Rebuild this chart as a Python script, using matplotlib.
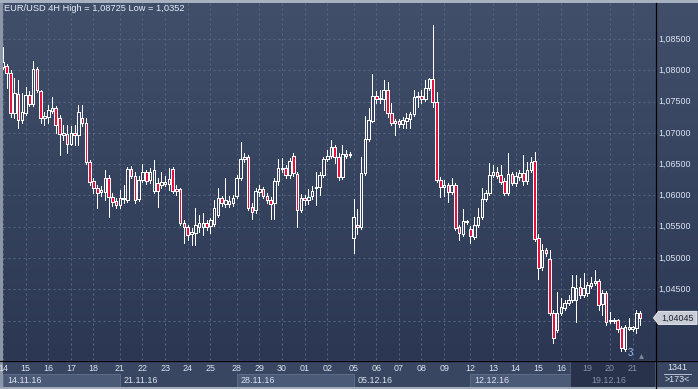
import numpy as np
import matplotlib
matplotlib.use("Agg")
import matplotlib.pyplot as plt
from matplotlib.patches import Rectangle, Polygon

# ---------------- data (EUR/USD, 4H candles) ----------------
opens = [
    1.0805, 1.0807, 1.0796, 1.0732, 1.0762, 1.0721, 1.0732, 1.0761, 1.0746, 1.0802,
    1.0767, 1.0724, 1.0725, 1.0735, 1.0740, 1.0724, 1.0697, 1.0698, 1.0682, 1.0700,
    1.0697, 1.0724, 1.0716, 1.0654, 1.0623, 1.0612, 1.0606, 1.0606, 1.0628, 1.0598,
    1.0591, 1.0585, 1.0594, 1.0593, 1.0642, 1.0631, 1.0594, 1.0625, 1.0638, 1.0625,
    1.0607, 1.0620, 1.0617, 1.0618, 1.0618, 1.0642, 1.0610, 1.0610, 1.0556, 1.0550,
    1.0539, 1.0540, 1.0550, 1.0550, 1.0556, 1.0551, 1.0555, 1.0569, 1.0596, 1.0586,
    1.0586, 1.0588, 1.0599, 1.0628, 1.0658, 1.0662, 1.0582, 1.0577, 1.0606, 1.0610,
    1.0599, 1.0593, 1.0588, 1.0623, 1.0642, 1.0644, 1.0633, 1.0663, 1.0634, 1.0577,
    1.0596, 1.0593, 1.0599, 1.0612, 1.0614, 1.0633, 1.0658, 1.0663, 1.0677, 1.0662,
    1.0630, 1.0663, 1.0665, 1.0532, 1.0553, 1.0550, 1.0636, 1.0690, 1.0719, 1.0759,
    1.0754, 1.0754, 1.0769, 1.0732, 1.0716, 1.0719, 1.0714, 1.0719, 1.0722, 1.0730,
    1.0757, 1.0759, 1.0754, 1.0772, 1.0786, 1.0749, 1.0625, 1.0614, 1.0617, 1.0606,
    1.0617, 1.0550, 1.0539, 1.0558, 1.0547, 1.0534, 1.0553, 1.0566, 1.0594, 1.0604,
    1.0633, 1.0638, 1.0633, 1.0623, 1.0604, 1.0634, 1.0620, 1.0630, 1.0636, 1.0623,
    1.0641, 1.0655, 1.0532, 1.0486, 1.0513, 1.0499, 1.0412, 1.0385, 1.0412, 1.0420,
    1.0428, 1.0433, 1.0433, 1.0454, 1.0441, 1.0444, 1.0456, 1.0460, 1.0464, 1.0427,
    1.0444, 1.0400, 1.0400, 1.0401, 1.0389, 1.0355, 1.0387, 1.0387, 1.0389, 1.0412,
]
closes = [
    1.0813, 1.0796, 1.0732, 1.0764, 1.0721, 1.0733, 1.0761, 1.0746, 1.0802, 1.0769,
    1.0724, 1.0727, 1.0737, 1.0740, 1.0713, 1.0698, 1.0700, 1.0682, 1.0700, 1.0697,
    1.0733, 1.0716, 1.0654, 1.0622, 1.0612, 1.0604, 1.0609, 1.0628, 1.0598, 1.0590,
    1.0585, 1.0596, 1.0596, 1.0642, 1.0631, 1.0593, 1.0625, 1.0638, 1.0623, 1.0638,
    1.0641, 1.0607, 1.0622, 1.0622, 1.0626, 1.0607, 1.0607, 1.0556, 1.0550, 1.0537,
    1.0542, 1.0553, 1.0556, 1.0556, 1.0550, 1.0561, 1.0580, 1.0596, 1.0588, 1.0593,
    1.0591, 1.0596, 1.0628, 1.0658, 1.0662, 1.0580, 1.0574, 1.0607, 1.0610, 1.0599,
    1.0593, 1.0586, 1.0623, 1.0644, 1.0644, 1.0633, 1.0655, 1.0636, 1.0577, 1.0596,
    1.0593, 1.0598, 1.0607, 1.0614, 1.0633, 1.0658, 1.0663, 1.0677, 1.0662, 1.0630,
    1.0666, 1.0666, 1.0666, 1.0566, 1.0550, 1.0636, 1.0690, 1.0721, 1.0759, 1.0754,
    1.0756, 1.0769, 1.0732, 1.0716, 1.0719, 1.0714, 1.0721, 1.0724, 1.0730, 1.0757,
    1.0759, 1.0754, 1.0772, 1.0786, 1.0749, 1.0625, 1.0614, 1.0617, 1.0606, 1.0617,
    1.0548, 1.0540, 1.0559, 1.0559, 1.0535, 1.0553, 1.0566, 1.0594, 1.0604, 1.0633,
    1.0638, 1.0631, 1.0622, 1.0604, 1.0634, 1.0620, 1.0631, 1.0636, 1.0623, 1.0641,
    1.0654, 1.0531, 1.0484, 1.0513, 1.0508, 1.0412, 1.0373, 1.0412, 1.0422, 1.0428,
    1.0433, 1.0454, 1.0452, 1.0441, 1.0452, 1.0457, 1.0460, 1.0464, 1.0425, 1.0444,
    1.0398, 1.0401, 1.0401, 1.0387, 1.0357, 1.0390, 1.0390, 1.0390, 1.0412, 1.04045,
]
highs = [
    1.0837, 1.0810, 1.0800, 1.0788, 1.0784, 1.0764, 1.0773, 1.0767, 1.0815, 1.0805,
    1.0769, 1.0733, 1.0745, 1.0757, 1.0743, 1.0729, 1.0713, 1.0713, 1.0711, 1.0713,
    1.0745, 1.0745, 1.0724, 1.0657, 1.0628, 1.0617, 1.0615, 1.0641, 1.0633, 1.0604,
    1.0596, 1.0609, 1.0617, 1.0646, 1.0647, 1.0638, 1.0631, 1.0650, 1.0641, 1.0644,
    1.0657, 1.0628, 1.0638, 1.0631, 1.0644, 1.0646, 1.0617, 1.0612, 1.0561, 1.0553,
    1.0548, 1.0580, 1.0569, 1.0572, 1.0561, 1.0564, 1.0593, 1.0612, 1.0599, 1.0628,
    1.0599, 1.0601, 1.0633, 1.0685, 1.0668, 1.0665, 1.0588, 1.0612, 1.0617, 1.0614,
    1.0604, 1.0598, 1.0628, 1.0658, 1.0660, 1.0649, 1.0660, 1.0668, 1.0638, 1.0602,
    1.0601, 1.0610, 1.0615, 1.0638, 1.0638, 1.0662, 1.0673, 1.0689, 1.0681, 1.0668,
    1.0681, 1.0673, 1.0670, 1.0594, 1.0578, 1.0662, 1.0727, 1.0740, 1.0794, 1.0767,
    1.0769, 1.0784, 1.0781, 1.0748, 1.0722, 1.0722, 1.0725, 1.0732, 1.0733, 1.0769,
    1.0765, 1.0769, 1.0784, 1.0788, 1.08725, 1.0765, 1.0630, 1.0625, 1.0620, 1.0628,
    1.0620, 1.0553, 1.0578, 1.0561, 1.0551, 1.0566, 1.0580, 1.0612, 1.0609, 1.0652,
    1.0649, 1.0646, 1.0649, 1.0628, 1.0668, 1.0638, 1.0638, 1.0641, 1.0665, 1.0654,
    1.0662, 1.0670, 1.0539, 1.0523, 1.0516, 1.0513, 1.0417, 1.0446, 1.0436, 1.0433,
    1.0441, 1.0473, 1.0473, 1.0468, 1.0476, 1.0462, 1.0470, 1.0481, 1.0467, 1.0449,
    1.0448, 1.0414, 1.0405, 1.0403, 1.0392, 1.0393, 1.0405, 1.0392, 1.0417, 1.0416,
]
lows = [
    1.0802, 1.0772, 1.0725, 1.0724, 1.0708, 1.0716, 1.0729, 1.0743, 1.0743, 1.0765,
    1.0716, 1.0713, 1.0716, 1.0732, 1.0700, 1.0665, 1.0689, 1.0668, 1.0681, 1.0681,
    1.0681, 1.0711, 1.0650, 1.0617, 1.0604, 1.0580, 1.0599, 1.0593, 1.0566, 1.0583,
    1.0580, 1.0580, 1.0588, 1.0590, 1.0628, 1.0588, 1.0591, 1.0622, 1.0618, 1.0620,
    1.0604, 1.0582, 1.0612, 1.0615, 1.0609, 1.0604, 1.0601, 1.0553, 1.0524, 1.0529,
    1.0521, 1.0521, 1.0542, 1.0537, 1.0545, 1.0540, 1.0551, 1.0566, 1.0583, 1.0582,
    1.0582, 1.0583, 1.0596, 1.0625, 1.0654, 1.0577, 1.0563, 1.0572, 1.0599, 1.0596,
    1.0588, 1.0563, 1.0563, 1.0617, 1.0638, 1.0628, 1.0628, 1.0631, 1.0550, 1.0574,
    1.0585, 1.0586, 1.0594, 1.0585, 1.0601, 1.0630, 1.0655, 1.0660, 1.0652, 1.0625,
    1.0626, 1.0660, 1.0662, 1.0508, 1.0539, 1.0547, 1.0633, 1.0687, 1.0717, 1.0748,
    1.0748, 1.0737, 1.0725, 1.0713, 1.0697, 1.0709, 1.0708, 1.0708, 1.0708, 1.0727,
    1.0741, 1.0748, 1.0751, 1.0769, 1.0741, 1.0622, 1.0598, 1.0599, 1.0590, 1.0602,
    1.0545, 1.0529, 1.0535, 1.0555, 1.0524, 1.0531, 1.0550, 1.0563, 1.0591, 1.0601,
    1.0630, 1.0628, 1.0618, 1.0601, 1.0601, 1.0617, 1.0615, 1.0625, 1.0617, 1.0618,
    1.0638, 1.0527, 1.0467, 1.0481, 1.0503, 1.0409, 1.0365, 1.0382, 1.0409, 1.0417,
    1.0425, 1.0430, 1.0398, 1.0436, 1.0438, 1.0440, 1.0452, 1.0457, 1.0417, 1.0409,
    1.0393, 1.0397, 1.0397, 1.0382, 1.0352, 1.0352, 1.0385, 1.0384, 1.0381, 1.0393,
]

day_labels = ["14", "15", "16", "17", "18", "21", "22", "23", "24", "25",
              "28", "29", "30", "01", "02", "05", "06", "07", "08", "09",
              "12", "13", "14", "15", "16", "19", "20", "21"]
day_start = [0, 6, 12, 18, 24, 31, 37, 43, 49, 55,
             62, 68, 74, 80, 86, 93, 99, 105, 111, 117,
             124, 130, 136, 142, 148, 155, 161, 167]
week_labels = ["14.11.16", "21.11.16", "28.11.16", "05.12.16", "12.12.16", "19.12.16"]
week_start = [0, 31, 62, 93, 124, 155]
price_levels = [1.040, 1.045, 1.050, 1.055, 1.060, 1.065, 1.070, 1.075, 1.080, 1.085]
symbol = "EUR/USD 4H"
bar_count = "1341"
shift_text = ">173<"

# ---------------- styling ----------------
FONT = "Liberation Sans"
TXT = "#dbe4f2"
RED = "#e8103c"
UPFILL = "#36425e"
GRID = "#586781"

W, H = 698, 389
fig = plt.figure(figsize=(W / 100, H / 100), dpi=100)

bg = fig.add_axes([0, 0, 1, 1], zorder=0)
bg.set_xlim(0, W); bg.set_ylim(H, 0); bg.axis("off")

ax = fig.add_axes([3 / W, 29 / H, 652 / W, 357 / H], zorder=1)
ax.patch.set_alpha(0)
for s in ax.spines.values():
    s.set_visible(False)
ax.set_xticks([]); ax.set_yticks([])

top = fig.add_axes([0, 0, 1, 1], zorder=2)
top.set_xlim(0, W); top.set_ylim(H, 0); top.axis("off")

o = np.array(opens); c = np.array(closes); hi = np.array(highs); lo = np.array(lows)
x = np.arange(len(o))
ax.set_xlim(0, 652 / 3.77)
ax.set_ylim(1.03372, 1.09075)

# background gradient (plot + price panel)
c_top = np.array([0x41, 0x4f, 0x6b]) / 255
c_bot = np.array([0x2c, 0x38, 0x53]) / 255
t = np.linspace(0, 1, 256)[:, None]
grad = (c_top * (1 - t) + c_bot * t)[:, None, :]
bg.imshow(grad, extent=[0, W, 360, 0], aspect="auto", interpolation="bilinear")
# date strip
bg.add_patch(Rectangle((0, 360), W, 29, fc="#394661", ec="none"))

def to_px(xv, yv):
    d = ax.transData.transform((xv, yv))
    return top.transData.inverted().transform(d)

# grid
for lv in price_levels:
    ax.axhline(lv, color=GRID, lw=0.72, ls=(0, (2, 3)), zorder=1)
for d in day_start:
    ax.axvline(d, color=GRID, lw=0.72, ls=(0, (2, 3)), zorder=1)

# candles
up = c >= o
ax.vlines(x, lo, hi, color="white", lw=0.72, antialiased=False, zorder=2)
body_b = np.minimum(o, c)
body_h = np.maximum(np.abs(c - o), 0.00001)
fills = np.where(up, UPFILL, RED)
ax.bar(x, body_h, bottom=body_b, width=0.68, color=fills, edgecolor="white",
       linewidth=0.72, antialiased=False, zorder=3)

# week boxes
week_px = [to_px(ws, 0)[0] for ws in week_start] + [655]
for k in range(len(week_labels)):
    x0, x1 = week_px[k], week_px[k + 1]
    if k % 2 == 0:
        bg.add_patch(Rectangle((x0, 374), x1 - x0, 12.5, fc="#4b5a77", ec="#5d6c89", lw=0.7))
# dimmed scroll region
bg.add_patch(Rectangle((570, 361), 85, 25.5, fc="#28324a", ec="#4f5c76", lw=0.7, zorder=5))

for k, lbl in enumerate(week_labels):
    px0 = week_px[k] + 4
    col = "#8692a8" if px0 > 570 else TXT
    top.text(px0, 380.3, lbl, ha="left", va="center", fontsize=6.4,
             color=col, family=FONT)

for d, lbl in zip(day_start, day_labels):
    px0 = to_px(d, 0)[0]
    col = "#8692a8" if px0 > 575 else TXT
    top.text(px0, 368.5, lbl, ha="center", va="center", fontsize=6.4,
             color=col, family=FONT)

# current price box position
py_last = to_px(0, c[-1])[1]

# price labels (the ones hidden behind the current price box are not shown)
for lv in price_levels:
    py = to_px(0, lv)[1]
    if abs(py - py_last) < 11:
        continue
    top.text(658, py, f"{lv:.5f}".replace(".", ","), ha="left", va="center",
             fontsize=6.4, color=TXT, family=FONT)

top.add_patch(Polygon([(653.5, py_last), (658.5, py_last - 6.5), (697, py_last - 6.5),
                       (697, py_last + 6.5), (658.5, py_last + 6.5)], closed=True,
                      fc="#c8ccd4", ec="#e8ebf0", lw=0.7, zorder=4))
top.text(677.5, py_last + 0.3, f"{c[-1]:.5f}".replace(".", ","), ha="center",
         va="center", fontsize=6.4, color="#1b2232", family=FONT, zorder=5)

# borders
top.plot([0, W], [360.5, 360.5], color="black", lw=0.9)
top.plot([655.5, 655.5], [2.5, H], color="black", lw=0.9)
top.add_patch(Rectangle((0, 0), 2.5, H, fc="#8c96a8", ec="none"))
top.add_patch(Rectangle((0, 0), W, 2.5, fc="#a8b1c0", ec="none"))
top.add_patch(Rectangle((0, 387), W, 2, fc="#a0aabb", ec="none"))

# title
hi_txt = f"{hi.max():.5f}".rstrip("0").replace(".", ",")
lo_txt = f"{lo.min():.5f}".rstrip("0").replace(".", ",")
top.text(4, 8.5, f"{symbol} High = {hi_txt} Low = {lo_txt}", ha="left", va="center",
         fontsize=6.7, color="#e6edf6", family=FONT)

# small markers bottom right of plot
top.text(630, 352.5, "3", ha="center", va="center", fontsize=7, color="#a3c2ef",
         family=FONT)
top.plot(640.5, 356, marker="^", ms=3.5, color="#7c879a", mec="none")

# bottom-right info
top.text(677, 367.5, bar_count, ha="center", va="center", fontsize=6.4, color=TXT, family=FONT)
top.plot([664, 691], [373.5, 373.5], color="#b8c1cf", lw=0.7)
top.text(677, 379.5, shift_text, ha="center", va="center", fontsize=6.4, color=TXT, family=FONT)

fig.savefig("out.png", dpi=100)
